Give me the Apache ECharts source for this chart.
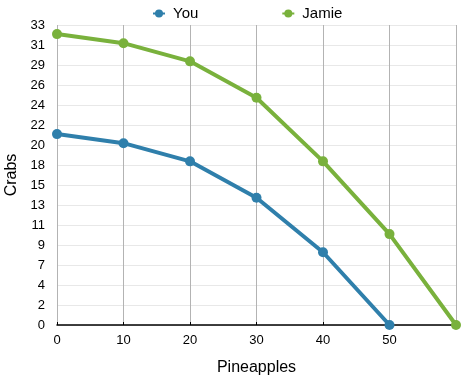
<!DOCTYPE html>
<html>
<head>
<meta charset="utf-8">
<script src="https://cdn.jsdelivr.net/npm/echarts@6/dist/echarts.min.js"></script>
<style>
    html, body { margin: 0; padding: 0; background: #fff; }
    #chart { width: 463px; height: 376px; }
</style>
</head>
<body>
<div id="chart"></div>
<script>
var pineapples = [0, 10, 20, 30, 40, 50, 60];
var you = [21, 20, 18, 14, 8, 0];
var jamie = [32, 31, 29, 25, 18, 10, 0];

function pairs(xs, ys) {
    var out = [];
    for (var i = 0; i < ys.length; i++) {
        out.push([xs[i], ys[i]]);
    }
    return out;
}

var myChart = echarts.init(document.getElementById('chart'));

var option = {
    animation: false,
    textStyle: { fontFamily: 'Liberation Sans, Arial, sans-serif' },
    legend: {
        top: 1,
        left: 147,
        itemGap: 83,
        itemWidth: 12,
        itemHeight: 10,
        textStyle: { fontSize: 15, color: '#000', padding: [0, 0, 0, 3] },
        data: ['You', 'Jamie']
    },
    grid: {
        left: 57,
        right: 7,
        top: 25,
        bottom: 51,
        containLabel: false,
        outerBoundsMode: 'none'
    },
    xAxis: {
        type: 'value',
        min: 0,
        max: 60,
        interval: 10,
        name: 'Pineapples',
        nameLocation: 'middle',
        nameGap: 35,
        nameTextStyle: { fontSize: 16, color: '#000' },
        axisLine: { show: true, lineStyle: { color: '#000', width: 1.5 } },
        axisTick: { show: true, inside: true, length: 3, lineStyle: { color: '#000' } },
        axisLabel: {
            color: '#000',
            fontSize: 13,
            margin: 9,
            formatter: function (v) { return v >= 60 ? '' : v; }
        },
        splitLine: { show: true, lineStyle: { color: '#b3b3b3', width: 1 } }
    },
    yAxis: {
        type: 'value',
        min: 0,
        max: 33,
        interval: 2.2,
        name: 'Crabs',
        nameLocation: 'middle',
        nameGap: 36,
        nameRotate: 90,
        nameTextStyle: { fontSize: 16, color: '#000' },
        axisLine: { show: false },
        axisTick: { show: false },
        axisLabel: {
            color: '#000',
            fontSize: 13,
            margin: 12,
            formatter: function (v) { return Math.round(v); }
        },
        splitLine: { show: true, lineStyle: { color: '#e8e8e8', width: 1 } }
    },
    series: [
        {
            name: 'You',
            type: 'line',
            data: pairs(pineapples, you),
            symbol: 'circle',
            symbolSize: 10,
            lineStyle: { width: 4, color: '#2f7fab' },
            itemStyle: { color: '#2f7fab' }
        },
        {
            name: 'Jamie',
            type: 'line',
            data: pairs(pineapples, jamie),
            symbol: 'circle',
            symbolSize: 10,
            lineStyle: { width: 4, color: '#79b13c' },
            itemStyle: { color: '#79b13c' }
        }
    ]
};

myChart.setOption(option);
</script>
</body>
</html>
